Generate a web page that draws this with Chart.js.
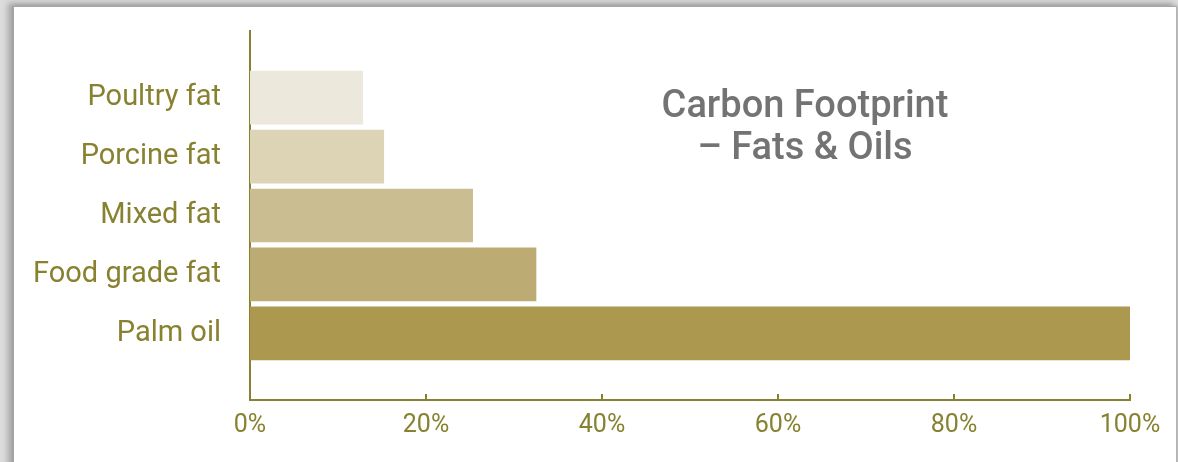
<!DOCTYPE html>
<html>
<head>
<meta charset="utf-8">
<script src="https://cdn.jsdelivr.net/npm/chart.js@4/dist/chart.umd.min.js"></script>
<style>
  html, body { margin: 0; padding: 0; }
  body { width: 1178px; height: 462px; background: #dcdcdc; position: relative; overflow: hidden; font-family: Roboto, sans-serif; }
  #frame {
    position: absolute; left: 12px; top: 6px; width: 1162px; height: 470px;
    background: #fff;
    border-left: 2px solid #a4a4a4; border-top: 1px solid #a8a8a8; border-right: 1px solid #b4b4b4;
    box-shadow: -4px -3px 6px rgba(0,0,0,0.25), 3px 0 4px rgba(0,0,0,0.15);
  }
  #chart { position: absolute; left: 0; top: 0; }
  #title {
    position: absolute; left: 605px; width: 400px; top: 83px;
    text-align: center; color: #737373; font-size: 38px; font-weight: 500; line-height: 42px;
  }
</style>
</head>
<body>
<div id="frame"></div>
<canvas id="chart" width="1178" height="462"></canvas>
<div id="title">Carbon Footprint<br>– Fats &amp; Oils</div>
<script>
const categories = ["Poultry fat", "Porcine fat", "Mixed fat", "Food grade fat", "Palm oil"];
const shares = [12.8, 15.2, 25.3, 32.5, 100];
const barColors = ["#ede8dc", "#ddd4b6", "#cbbd92", "#bdab74", "#ac984f"];
const xTicks = [0, 20, 40, 60, 80, 100];

const olive = "#878130";

// small tick marks drawn upward from the x axis
const innerTicks = {
  id: "innerTicks",
  afterDraw(chart) {
    const xs = chart.scales.x;
    const ctx = chart.ctx;
    ctx.save();
    ctx.strokeStyle = olive;
    ctx.lineWidth = 2;
    xs.ticks.forEach((t) => {
      if (t.value === 0) return;
      const px = Math.round(xs.getPixelForValue(t.value));
      ctx.beginPath();
      ctx.moveTo(px, xs.top);
      ctx.lineTo(px, xs.top - 6);
      ctx.stroke();
    });
    ctx.restore();
  }
};

new Chart(document.getElementById("chart").getContext("2d"), {
  type: "bar",
  data: {
    datasets: [{
      data: categories.map((c, i) => ({ x: shares[i], y: i })),
      backgroundColor: barColors,
      barThickness: 53,
      borderWidth: 0,
    }],
  },
  options: {
    indexAxis: "y",
    responsive: false,
    animation: false,
    layout: { padding: { top: 31, right: 48, left: 0, bottom: 0 } },
    plugins: { legend: { display: false }, tooltip: { enabled: false } },
    scales: {
      x: {
        type: "linear",
        min: 0,
        max: 100,
        bounds: "data",
        afterBuildTicks: (s) => { s.ticks = xTicks.map((v) => ({ value: v })); },
        afterFit: (s) => { s.height = 62; s.paddingLeft = 0; s.paddingRight = 0; },
        grid: { display: false, drawTicks: false },
        border: { display: true, color: olive, width: 2 },
        ticks: {
          color: olive,
          padding: 11,
          font: { family: "Roboto", size: 25 },
          callback: (v) => v + "%",
        },
      },
      y: {
        type: "linear",
        reverse: true,
        offset: false,
        bounds: "data",
        min: -1.13,
        max: 5.13,
        afterBuildTicks: (s) => { s.ticks = categories.map((c, i) => ({ value: i })); },
        afterFit: (s) => { s.width = 250; s.paddingTop = 0; s.paddingBottom = 0; },
        grid: { display: false, drawTicks: false, offset: false },
        border: { display: true, color: olive, width: 2 },
        ticks: {
          color: olive,
          padding: 29,
          font: { family: "Roboto", size: 29 },
          callback: (v) => categories[v],
        },
      },
    },
  },
  plugins: [innerTicks],
});
</script>
</body>
</html>
